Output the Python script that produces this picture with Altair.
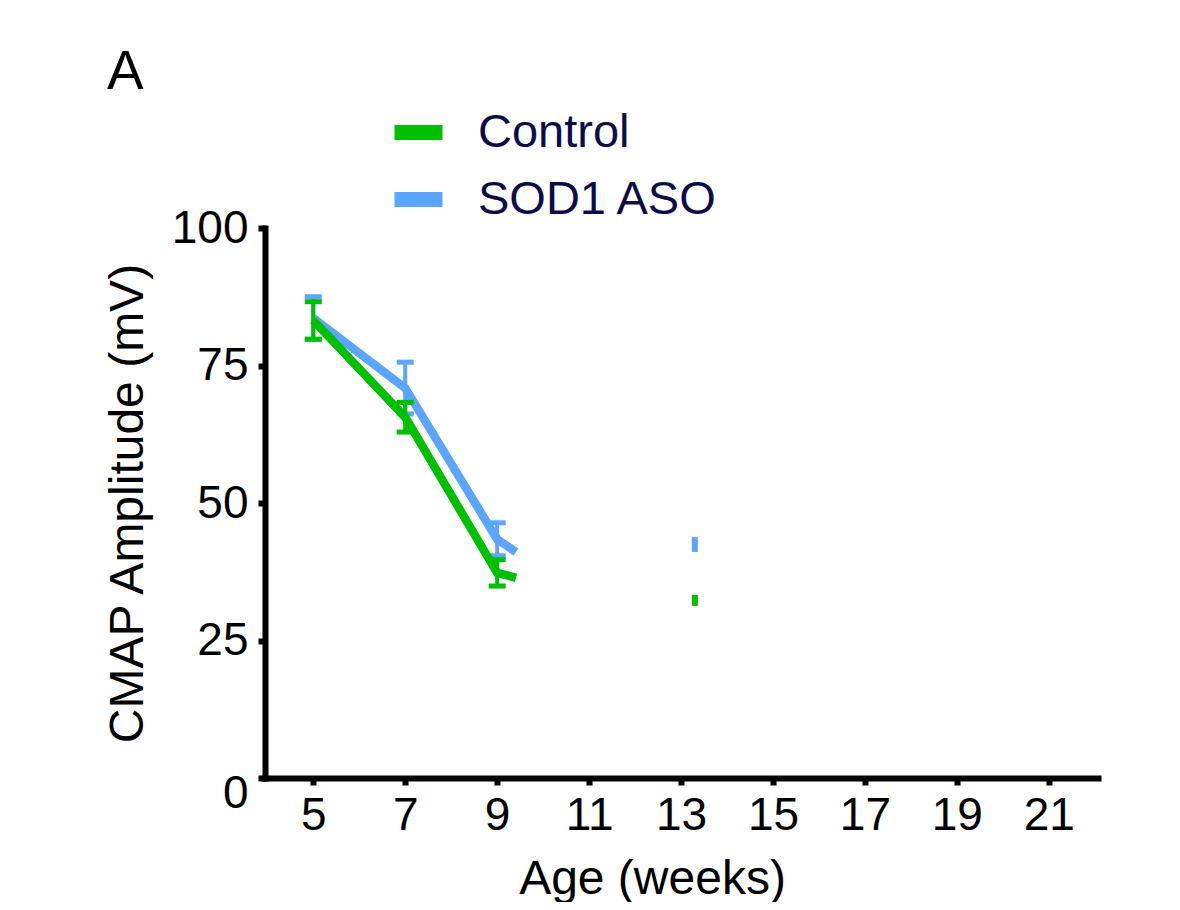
import altair as alt
import pandas as pd

# ---- data ----
series_names = ["Control", "SOD1 ASO"]
series_colors = ["#00C000", "#5AA5FF"]
weeks = [5, 7, 9]
control_mean = [83.2, 65.6, 37.3]
control_sem = [3.4, 2.7, 2.4]
aso_mean = [83.6, 70.9, 43.4]
aso_sem = [3.9, 4.7, 3.0]
# lines are cut off just after week 9 in the picture
cut_week = 9.41
control_cut = 36.4
aso_cut = 41.1
# small visible fragments near week 13
fragment_week = 13.3
control_fragment = [31.3, 33.3]
aso_fragment = [41.1, 43.8]
x_ticks = [5, 7, 9, 11, 13, 15, 17, 19, 21]
y_ticks = [0, 25, 50, 75, 100]

# ---- tables built from the arrays ----
rows = []
for s, means, sems in [("Control", control_mean, control_sem), ("SOD1 ASO", aso_mean, aso_sem)]:
    for w, m, e in zip(weeks, means, sems):
        rows.append({"series": s, "week": w, "mean": m, "lo": m - e, "hi": m + e})
points_df = pd.DataFrame(rows)
lines_df = pd.concat([
    points_df[["series", "week", "mean"]],
    pd.DataFrame([{"series": "Control", "week": cut_week, "mean": control_cut},
                  {"series": "SOD1 ASO", "week": cut_week, "mean": aso_cut}]),
], ignore_index=True)
frag_df = pd.DataFrame([
    {"series": "Control", "week": fragment_week, "lo": control_fragment[0], "hi": control_fragment[1]},
    {"series": "SOD1 ASO", "week": fragment_week, "lo": aso_fragment[0], "hi": aso_fragment[1]},
])

FONT = "Liberation Sans"

x_scale = alt.Scale(domain=[3.95, 22.07], nice=False, zero=False)
y_scale = alt.Scale(domain=[0, 100], nice=False)

x_axis = alt.Axis(values=x_ticks, title="Age (weeks)", labelPadding=8,
                  titleX=387, titleY=115, titleAlign="center", titleBaseline="alphabetic")
y_axis = alt.Axis(values=y_ticks, title="CMAP Amplitude (mV)", labelPadding=10,
                  labelOffset={"expr": "datum.value == 0 ? 15 : 0"},
                  titleX=-137, titleY=275, titleAlign="center", titleBaseline="middle")

legend = alt.Legend(orient="none", legendX=122, legendY=-127, title=None,
                    symbolType="stroke", symbolSize=2304, symbolStrokeWidth=15,
                    labelFontSize=47, labelFont=FONT, labelColor="#0C0C4A", labelLimit=0,
                    labelOffset=28, rowPadding=5, padding=0, symbolOpacity=1)

color = alt.Color("series:N", scale=alt.Scale(domain=series_names, range=series_colors), legend=legend)

layers = []
for s in ["SOD1 ASO", "Control"]:
    flt = alt.datum.series == s
    line = alt.Chart(lines_df).transform_filter(flt).mark_line(strokeWidth=8.5).encode(
        x=alt.X("week:Q", scale=x_scale, axis=x_axis),
        y=alt.Y("mean:Q", scale=y_scale, axis=y_axis),
        color=color,
        order="week:Q",
    )
    bar = alt.Chart(points_df).transform_filter(flt).mark_rule(strokeWidth=4).encode(
        x=alt.X("week:Q", scale=x_scale, axis=x_axis),
        y=alt.Y("lo:Q", scale=y_scale, axis=y_axis),
        y2="hi:Q",
        color=color,
    )
    cap_lo = alt.Chart(points_df).transform_filter(flt).mark_tick(
        orient="horizontal", size=17, thickness=5, opacity=1).encode(
        x=alt.X("week:Q", scale=x_scale, axis=x_axis),
        y=alt.Y("lo:Q", scale=y_scale, axis=y_axis),
        color=color,
    )
    cap_hi = alt.Chart(points_df).transform_filter(flt).mark_tick(
        orient="horizontal", size=17, thickness=5, opacity=1).encode(
        x=alt.X("week:Q", scale=x_scale, axis=x_axis),
        y=alt.Y("hi:Q", scale=y_scale, axis=y_axis),
        color=color,
    )
    frag = alt.Chart(frag_df).transform_filter(flt).mark_rule(strokeWidth=6).encode(
        x=alt.X("week:Q", scale=x_scale, axis=x_axis),
        y=alt.Y("lo:Q", scale=y_scale, axis=y_axis),
        y2="hi:Q",
        color=color,
    )
    layers += [bar, cap_lo, cap_hi, line, frag]

chart = alt.layer(*layers).properties(
    width=833,
    height=550,
    autosize=alt.AutoSizeParams(type="none"),
    padding={"left": 257, "top": 220, "right": 74, "bottom": 124},
    title=alt.TitleParams("A", anchor="start", frame="group", fontSize=55, font=FONT,
                          fontWeight="normal", color="black", dx=-158, offset=0),
    background="white",
).configure_view(stroke=None).configure_axis(
    domainColor="black", domainWidth=6, domainCap="square",
    tickColor="black", tickWidth=6, tickSize=7,
    labelFont=FONT, labelFontSize=46, labelColor="black",
    titleFont=FONT, titleFontSize=48, titleFontWeight="normal", titleColor="black",
    grid=False,
)

chart.save("out.html", embed_options={"renderer": "svg", "actions": False})
